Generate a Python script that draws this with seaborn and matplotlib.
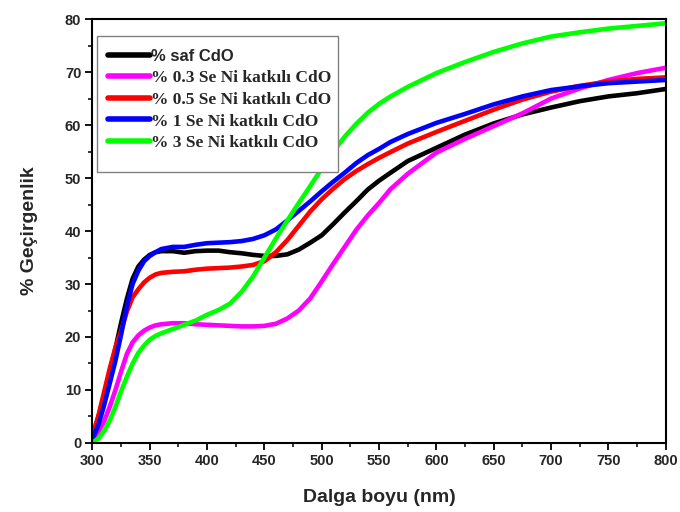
import numpy as np
import pandas as pd
import matplotlib
matplotlib.use("Agg")
import matplotlib.pyplot as plt
import seaborn as sns
from matplotlib.ticker import MultipleLocator
from matplotlib.patches import Rectangle

wavelength = [300, 305, 310, 315, 320, 325, 330, 335, 340, 345, 350, 355, 360,
              370, 380, 390, 400, 410, 420, 430, 440, 450, 460, 470, 480, 490, 500, 510,
              520, 530, 540, 550, 560, 575, 600, 625, 650, 675, 700, 725, 750,
              775, 800]

saf = [0.8, 4.8, 8.5, 13.2, 17.8, 22.7, 27.2, 31.0, 33.3, 34.6, 35.5, 36.0, 36.2,
       36.2, 35.9, 36.2, 36.3, 36.3, 36.0, 35.8, 35.5, 35.3, 35.3, 35.6, 36.5, 37.8, 39.2, 41.3,
       43.5, 45.6, 47.8, 49.5, 51.0, 53.2, 55.7, 58.2, 60.3, 62.0, 63.3, 64.5, 65.4,
       66.0, 66.8]

se03 = [0.5, 2.0, 4.0, 6.8, 10.0, 13.5, 16.8, 19.0, 20.3, 21.2, 21.8, 22.2, 22.4,
        22.6, 22.6, 22.4, 22.3, 22.2, 22.1, 22.0, 22.0, 22.1, 22.5, 23.5, 25.0, 27.3, 30.5, 33.8,
        37.0, 40.2, 42.9, 45.3, 47.9, 50.8, 54.8, 57.4, 59.8, 62.2, 65.0, 66.9, 68.5,
        69.8, 70.8]

se05 = [1.5, 5.0, 9.5, 14.0, 18.0, 21.2, 24.8, 27.5, 29.0, 30.3, 31.2, 31.8, 32.1,
        32.3, 32.4, 32.7, 32.9, 33.0, 33.1, 33.3, 33.6, 34.3, 36.0, 38.3, 41.0, 43.7, 46.0, 48.0,
        49.8, 51.3, 52.6, 53.8, 54.9, 56.5, 58.7, 60.8, 62.9, 64.8, 66.3, 67.4, 68.2,
        68.7, 69.0]

se1 = [0.8, 3.3, 7.0, 11.2, 15.5, 20.5, 25.8, 30.0, 32.5, 34.3, 35.3, 36.0, 36.6,
       37.0, 37.0, 37.4, 37.7, 37.8, 37.9, 38.1, 38.5, 39.2, 40.3, 42.0, 43.8, 45.6, 47.5, 49.3,
       51.0, 52.8, 54.3, 55.5, 56.8, 58.3, 60.4, 62.1, 63.9, 65.4, 66.6, 67.3, 67.9,
       68.2, 68.5]

se3 = [0.1, 0.8, 2.2, 4.2, 6.8, 9.8, 12.5, 15.0, 17.0, 18.4, 19.5, 20.2, 20.7,
       21.5, 22.3, 23.1, 24.2, 25.1, 26.3, 28.5, 31.4, 35.0, 38.6, 42.0, 45.3, 48.5, 51.8, 55.0,
       57.8, 60.2, 62.3, 64.0, 65.4, 67.2, 69.8, 71.9, 73.8, 75.4, 76.7, 77.5, 78.2,
       78.7, 79.2]

labels = ["% saf CdO", "% 0.3 Se Ni katkılı CdO", "% 0.5 Se Ni katkılı CdO",
          "% 1 Se Ni katkılı CdO", "% 3 Se Ni katkılı CdO"]
colors = ["#000000", "#ff00ff", "#ff0000", "#0000ff", "#00ff00"]
series = [saf, se03, se05, se1, se3]

df = pd.concat([pd.DataFrame({"wl": wavelength, "T": s, "sample": lab})
                for s, lab in zip(series, labels)], ignore_index=True)

sns.set_theme(style="ticks")
plt.rcParams['font.family'] = ['Liberation Sans', 'DejaVu Sans']

fig = plt.figure(figsize=(6.8, 5.12), dpi=100)
ax = fig.add_axes([0.136, 0.1348, 0.843, 0.828])

sns.lineplot(data=df, x="wl", y="T", hue="sample", hue_order=labels,
             palette=dict(zip(labels, colors)), linewidth=3.3, ax=ax,
             legend=False, sort=True)

ax.set_xlim(300, 800)
ax.set_ylim(0, 80)
ax.xaxis.set_major_locator(MultipleLocator(50))
ax.xaxis.set_minor_locator(MultipleLocator(25))
ax.yaxis.set_major_locator(MultipleLocator(10))
ax.yaxis.set_minor_locator(MultipleLocator(5))
ax.tick_params(which="major", direction="out", length=5, width=1.3,
               labelsize=10.5, top=False, right=False, color="black", pad=3)
ax.tick_params(which="minor", direction="out", length=3, width=1.1,
               top=False, right=False, color="black")
for lab in ax.get_xticklabels() + ax.get_yticklabels():
    lab.set_fontweight("bold")
for sp in ax.spines.values():
    sp.set_visible(True)
    sp.set_linewidth(1.5)
    sp.set_color("black")

ax.set_xlabel("Dalga boyu (nm)", fontsize=14, fontweight="bold", labelpad=15)
ax.set_ylabel("% Geçirgenlik", fontsize=14, fontweight="bold", labelpad=19)

# legend box (opaque, drawn over the lines like the reference)
box = Rectangle((0.0078, 0.639), 0.4202, 0.321, transform=ax.transAxes,
                facecolor="white", edgecolor="#808080", linewidth=1.0, zorder=4)
ax.add_patch(box)

handles = [plt.Line2D([], [], color=c, lw=4) for c in colors]
leg = ax.legend(handles, labels, loc="upper left", bbox_to_anchor=(0.027, 0.930),
                borderaxespad=0, frameon=False,
                fontsize=12.5, handlelength=2.4, handletextpad=0.1,
                labelspacing=0.33, borderpad=0.0)
leg.set_zorder(5)
for i, t in enumerate(leg.get_texts()):
    t.set_fontweight("bold")
    if i == 0:
        t.set_family(["Liberation Sans", "DejaVu Sans"])
        t.set_fontsize(12)
    else:
        t.set_family(["Liberation Serif", "DejaVu Serif"])

fig.savefig("out.png", dpi=100, facecolor="white")
